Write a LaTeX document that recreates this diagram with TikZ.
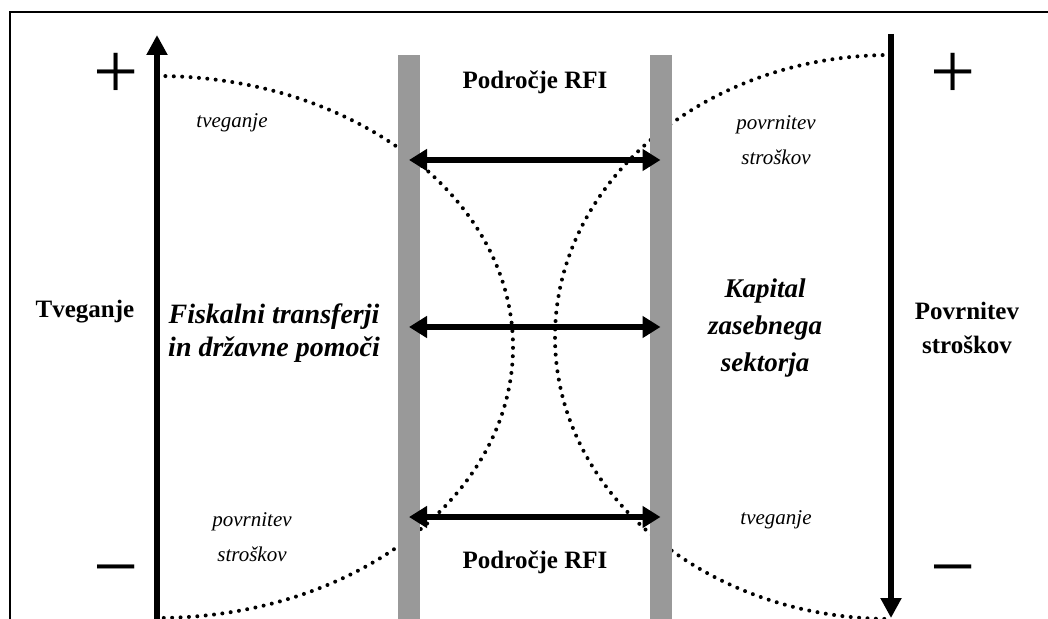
\documentclass[tikz,border=0pt]{standalone}
\usepackage{fontspec}
\setmainfont{Liberation Serif}
\usetikzlibrary{arrows.meta}
\definecolor{barcolor}{HTML}{999999}

\begin{document}
\begin{tikzpicture}[x=0.5pt, y=-0.5pt,
        axisarrow/.style={line width=3pt, -{Triangle[length=10pt, width=10pt]}},
        rfiarrow/.style={line width=3pt, {Triangle[length=9pt, width=10.5pt]}-{Triangle[length=9pt, width=10.5pt]}},
        rfibar/.style={fill=barcolor, draw=none, minimum width=11pt, minimum height=282pt, anchor=north},
        dotline/.style={line width=2pt, line cap=round, dash pattern=on 0pt off 4.2pt},
        bigtitle/.style={font=\fontsize{12.5}{17}\selectfont\bfseries, align=center},
        maintext/.style={font=\fontsize{14}{16.5}\selectfont\bfseries\itshape, align=center},
        smalltext/.style={font=\fontsize{10.5}{17.5}\selectfont\itshape, align=center},
        sign/.style={font=\fontsize{40}{40}\selectfont, inner sep=0pt}]
    \useasboundingbox (0,0) rectangle (1048,619);
    \draw[line width=1pt] (10,619) -- (10,12) -- (1048,12);

    % dotted curves behind the bars
    \draw[dotline] (157,76) arc[start angle=-90, end angle=90, x radius=356, y radius=271];
    \draw[dotline] (891,55) arc[start angle=270, end angle=90, x radius=336, y radius=282];

    \node[rfibar] (leftbar) at (409,55) {};
    \node[rfibar] (rightbar) at (660.5,55) {};

    \foreach \y/\n in {160/top, 327/mid, 517/bot} {
        \coordinate (row\n) at (0,\y);
        \draw[rfiarrow] (leftbar.center |- row\n) -- (rightbar.center |- row\n);
    }

    \coordinate (riskbottom) at (157,619);
    \coordinate (risktop) at (157,35);
    \coordinate (coststop) at (891,34);
    \coordinate (costsbottom) at (891,618);
    \draw[axisarrow] (riskbottom) -- (risktop);
    \draw[axisarrow] (coststop) -- (costsbottom);

    \node[sign] (plusleft) at (116,76) {+};
    \node[sign] (plusright) at (953,76) {+};
    \node[sign] (minusleft) at (116,579) {−};
    \node[sign] (minusright) at (953,579) {−};

    \node[bigtitle] (rfitop) at (535,82) {Področje RFI};
    \node[bigtitle] (rfibottom) at (535,562) {Področje RFI};
    \node[bigtitle] (risk) at (85,312) {Tveganje};
    \node[bigtitle] (costs) at (967,328) {Povrnitev\\stroškov};

    \node[maintext] (fiscal) at (274,333) {Fiskalni transferji\\in državne pomoči};
    \node[maintext, font=\fontsize{13.5}{18.5}\selectfont\bfseries\itshape] (private) at (765,328) {Kapital\\zasebnega\\sektorja};

    \node[smalltext] (risklt) at (232,123) {tveganje};
    \node[smalltext] (costsrt) at (776,140) {povrnitev\\stroškov};
    \node[smalltext] (costslb) at (252,537) {povrnitev\\stroškov};
    \node[smalltext] (riskrb) at (776,520) {tveganje};
\end{tikzpicture}
\end{document}
